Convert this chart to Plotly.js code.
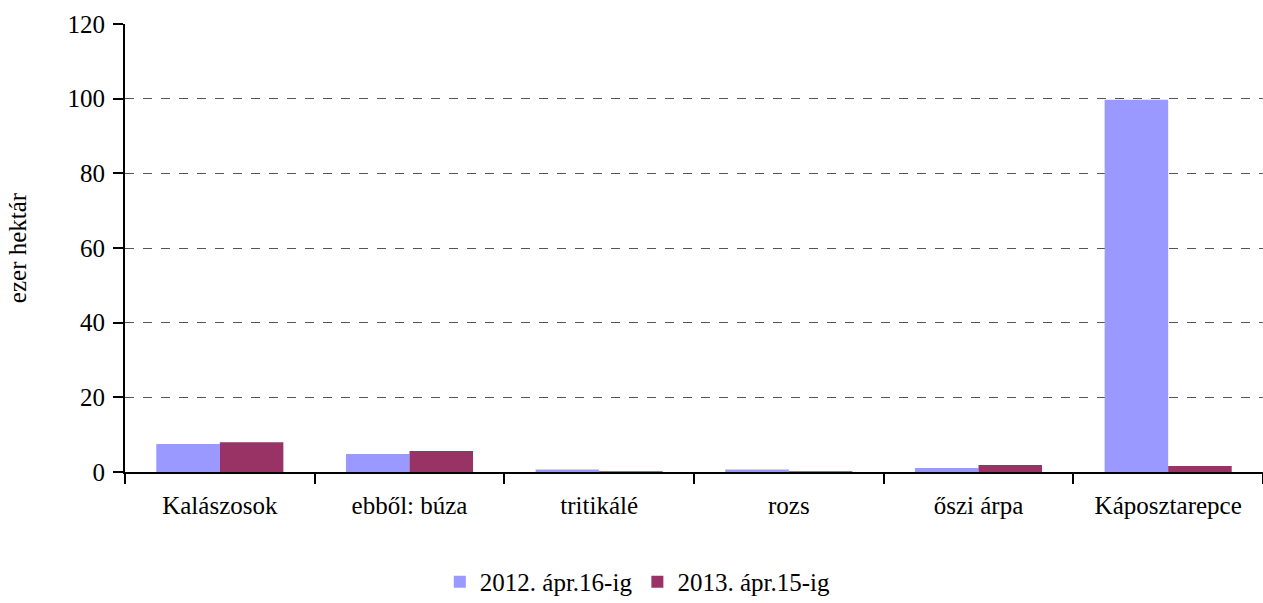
<!DOCTYPE html>
<html><head><meta charset="utf-8">
<script src="https://cdn.plot.ly/plotly-3.0.1.min.js"></script>
<style>body{margin:0;padding:0;background:#fff}#chart{width:1263px;height:603px}</style>
</head><body><div id="chart"></div>
<script>
const categories = ["Kalászosok", "ebből: búza", "tritikálé", "rozs", "őszi árpa", "Káposztarepce"];
const series2012 = [7.5, 4.8, 0.7, 0.7, 1.1, 99.7];
const series2013 = [8.0, 5.6, 0.2, 0.2, 1.9, 1.6];
const seriesNames = ["2012. ápr.16-ig", "2013. ápr.15-ig"];
const yTicks = [0, 20, 40, 60, 80, 100, 120];

const fam = "Liberation Serif";
const fs = 25;
const mk = () => ({family: fam, size: fs, color: "#000"});
const data = [
  {type: "bar", x: categories, y: series2012, name: seriesNames[0], marker: {color: "#9999ff"}},
  {type: "bar", x: categories, y: series2013, name: seriesNames[1], marker: {color: "#993366"}}
];
const layout = {
  width: 1263, height: 603,
  margin: {l: 125, r: 0, t: 24, b: 131},
  font: mk(),
  barmode: "group", bargap: 0.33, bargroupgap: 0,
  paper_bgcolor: "#fff", plot_bgcolor: "#fff",
  showlegend: true,
  legend: {orientation: "h", x: 0.505, xanchor: "center", xref: "container", y: 0.035, yanchor: "middle", yref: "container",
           font: mk(), traceorder: "normal", bgcolor: "rgba(0,0,0,0)"},
  xaxis: {
    type: "category", showline: true, linecolor: "#000", linewidth: 2,
    ticks: "outside", tickson: "boundaries", ticklen: 10, tickwidth: 2, tickcolor: "#000",
    showgrid: false, zeroline: false, ticklabelstandoff: 10,
    tickfont: mk()
  },
  yaxis: {
    range: [0, 120], tickvals: yTicks, ticktext: yTicks.map(String),
    showline: true, linecolor: "#000", linewidth: 2,
    ticks: "outside", ticklen: 10, tickwidth: 2, tickcolor: "#000",
    showgrid: true, gridcolor: "#555", griddash: "dash", gridwidth: 1,
    zeroline: false, ticklabelstandoff: 3,
    tickfont: mk(),
    title: {text: "ezer hektár", font: mk(), standoff: 34}
  }
};
Plotly.newPlot("chart", data, layout, {displayModeBar: false, staticPlot: true});
</script></body></html>
